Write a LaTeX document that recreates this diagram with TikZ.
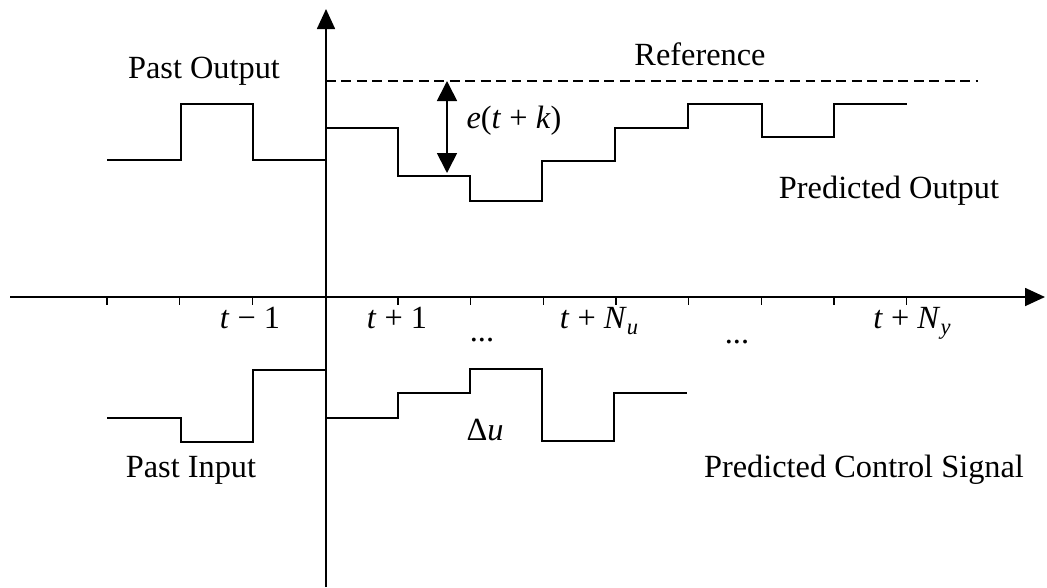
\documentclass[tikz,border=0pt]{standalone}
\usepackage{fontspec}
\setmainfont{Liberation Serif}
\usetikzlibrary{arrows.meta, positioning}

\newcommand{\lowsub}[1]{\raisebox{-0.45ex}{\fontsize{16}{18}\selectfont\textit{#1}}}

\begin{document}
\begin{tikzpicture}[
			x=0.025cm, y=-0.025cm,
			lbl/.style={font=\fontsize{23}{27}\selectfont, inner sep=0pt, anchor=base},
			signal/.style={line width=1.2pt},
			axis/.style={line width=1.2pt, -{Triangle[length=5mm, width=4.5mm]}},
			errarrow/.style={line width=1.2pt, {Triangle[length=5mm, width=5mm]}-{Triangle[length=5mm, width=5mm]}},
			refline/.style={line width=1.1pt, dash pattern=on 7pt off 4pt}
		]
		\useasboundingbox (0,0) rectangle (1047,587);
		\coordinate (xstart) at (10,297);
		\coordinate (xend) at (1045,297);
		\coordinate (ybot) at (326,587);
		\coordinate (ytop) at (326,9);
		\draw[axis] (xstart) -- (xend);
		\draw[axis] (ybot) -- (ytop);
		\foreach \i in {0,1,2,4,5,6,7,8,9,10,11}
			\draw[line width=1pt] ({107+72.7*\i},297) -- ++(0,8);
		\coordinate (refstart) at (326,81);
		\coordinate (refend) at (978,81);
		\draw[refline] (refstart) -- (refend);
		\draw[signal] (107,160) -| (181,104) -| (253,160) -- (326,160);
		\draw[signal] (326,128) -| (398,176) -| (470,201) -| (542,161) -| (615,128)
			-| (688,104) -| (762,137) -| (834,104) -- (907,104);
		\draw[signal] (107,418) -| (181,442) -| (253,370) -- (326,370);
		\draw[signal] (326,418) -| (398,393) -| (470,369) -| (542,441) -| (614,393) -- (687,393);
		\coordinate (etop) at (447,81);
		\coordinate (ebot) at (447,173);
		\draw[errarrow] (etop) -- (ebot);
		\node[lbl] (pastout) at (204,78) {Past Output};
		\node[lbl] (reference) at (700,65) {Reference};
		\node[lbl] (error) at (514,128) {\textit{e}(\textit{t} + \textit{k})};
		\node[lbl] (predout) at (889,198) {Predicted Output};
		\node[lbl] (tminus) at (250,328) {\textit{t} − 1};
		\node[lbl] (tplus) at (397,328) {\textit{t} + 1};
		\node[lbl] (dotsa) at (482,341) {...};
		\node[lbl] (tnu) at (599,328) {\textit{t} + \textit{N}\lowsub{u}};
		\node[lbl] (dotsb) at (737,343) {...};
		\node[lbl] (tny) at (912,328) {\textit{t} + \textit{N}\lowsub{y}};
		\node[lbl] (deltau) at (485,440) {Δ\textit{u}};
		\node[lbl] (pastin) at (191,477) {Past Input};
		\node[lbl] (predin) at (864,477) {Predicted Control Signal};
	\end{tikzpicture}
\end{document}
